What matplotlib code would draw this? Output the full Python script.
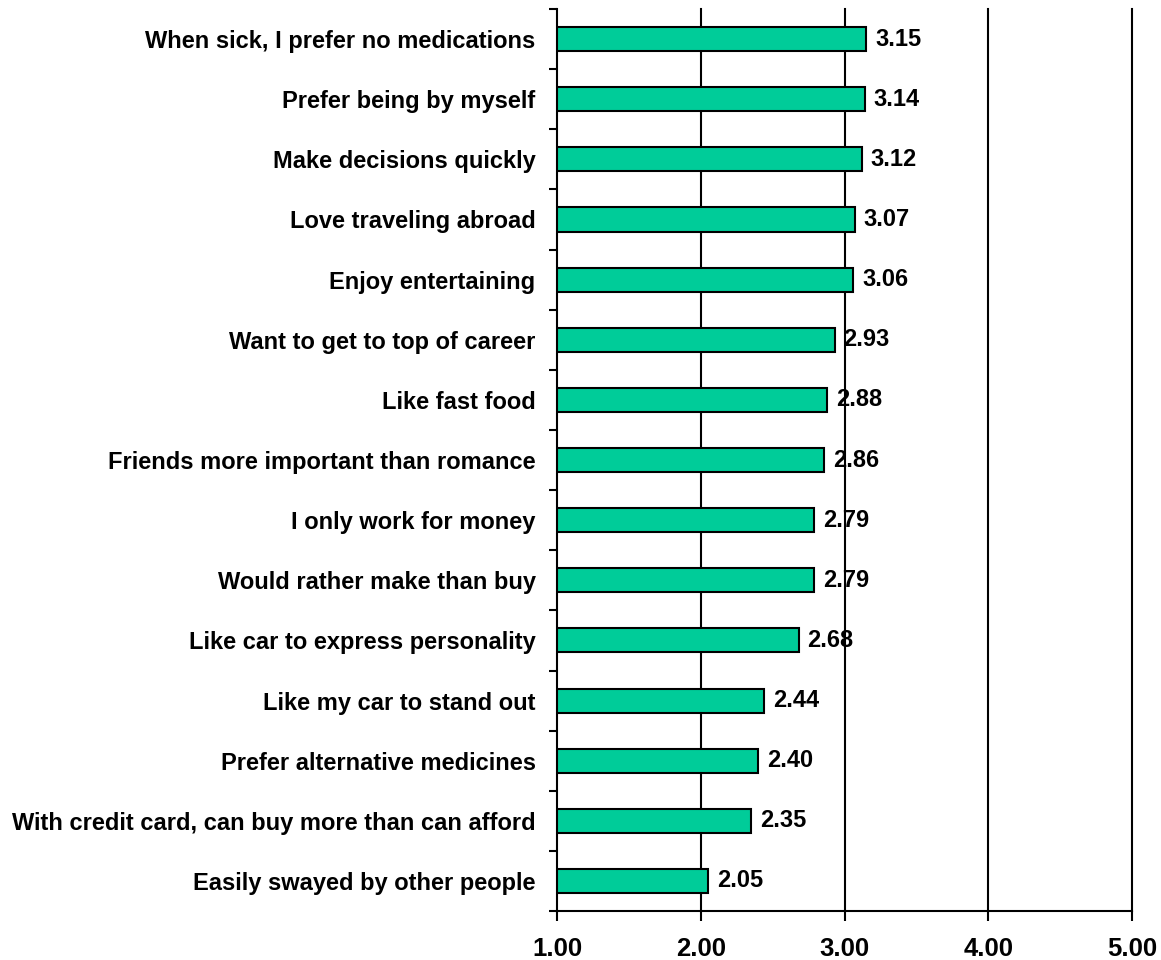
import matplotlib
matplotlib.use('Agg')
import matplotlib.pyplot as plt
import numpy as np

# Statements, bottom to top
labels = [
    'Easily swayed by other people',
    'With credit card, can buy more than can afford',
    'Prefer alternative medicines',
    'Like my car to stand out',
    'Like car to express personality',
    'Would rather make than buy',
    'I only work for money',
    'Friends more important than romance',
    'Like fast food',
    'Want to get to top of career',
    'Enjoy entertaining',
    'Love traveling abroad',
    'Make decisions quickly',
    'Prefer being by myself',
    'When sick, I prefer no medications',
]
scores = [2.05, 2.35, 2.40, 2.44, 2.68, 2.79, 2.79, 2.86, 2.88, 2.93,
          3.06, 3.07, 3.12, 3.14, 3.15]
x_ticks = [1.0, 2.0, 3.0, 4.0, 5.0]

plt.rcParams['font.family'] = ['Liberation Sans', 'DejaVu Sans']
plt.rcParams['font.weight'] = 'bold'

fig = plt.figure(figsize=(11.61, 9.6), dpi=100)
ax = fig.add_axes([0.4798, 0.0510, 0.4953, 0.9396])

y = np.arange(len(labels))
left = x_ticks[0]
ax.barh(y, np.array(scores) - left, left=left, height=0.4,
        color='#00CC99', edgecolor='black', linewidth=1.5, zorder=3)

# value labels just past the end of each bar
for yi, s in zip(y, scores):
    ax.annotate(f'{s:.2f}', (s, yi), xytext=(6.5, 0), textcoords='offset points',
                va='center', ha='left', fontsize=17, fontweight='bold', zorder=4)

ax.set_xlim(x_ticks[0], x_ticks[-1])
ax.set_ylim(-0.5, len(labels) - 0.5)

# gridlines at the major x ticks
for xv in x_ticks[1:]:
    ax.axvline(xv, color='black', linewidth=1.5, zorder=1, clip_on=False)

ax.set_xticks(x_ticks)
ax.set_xticklabels([f'{v:.2f}' for v in x_ticks], fontsize=18.5, fontweight='bold')

# labels at bar centers, tick marks at category boundaries
ax.set_yticks(y)
ax.set_yticklabels(labels, fontsize=17, fontweight='bold')
ax.set_yticks(np.arange(len(labels) + 1) - 0.5, minor=True)
ax.tick_params(axis='y', which='major', length=0, pad=15.5)
ax.tick_params(axis='y', which='minor', length=6, width=1.5, direction='out')
ax.tick_params(axis='x', which='major', length=7, width=1.5, direction='out', pad=12)

for side in ['top', 'right']:
    ax.spines[side].set_visible(False)
for side in ['left', 'bottom']:
    ax.spines[side].set_linewidth(1.5)

fig.savefig('out.png', dpi=100)
